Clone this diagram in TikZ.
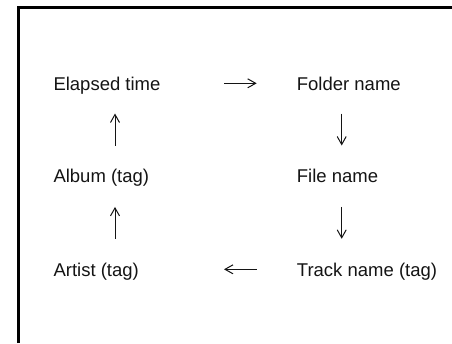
\documentclass[tikz,border=0pt]{standalone}
\usepackage{fontspec}
\setmainfont{Liberation Sans}
\usetikzlibrary{arrows.meta}
\begin{document}
\begin{tikzpicture}[x=1pt,y=-1pt,
  lbl/.style={anchor=base west,inner sep=0pt,text height=17.4pt,text depth=4pt,
    font=\fontsize{18.5}{22}\selectfont,text=black!92},
  arr/.style={line width=1pt,-{Straight Barb[length=8pt,width=9pt,line width=1pt]},draw=black!92},
  frame/.style={line width=3pt,line join=miter}]
\useasboundingbox (0,0) rectangle (452,343);
\draw[frame] (18.7,343) -- (18.7,7) -- (452,7);
\node[lbl] (e) at (53.3,90) {Elapsed time};
\node[lbl] (f) at (296.7,90) {Folder name};
\node[lbl] (al) at (53.3,182.7) {Album (tag)};
\node[lbl] (fi) at (296.7,182.7) {File name};
\node[lbl] (ar) at (53.3,276) {Artist (tag)};
\node[lbl] (t) at (296.7,276) {Track name (tag)};
\coordinate (cl) at (115,0);
\coordinate (cr) at (341.7,0);
\coordinate (h1) at (224,0);
\coordinate (h2) at (256.7,0);
\draw[arr] (e.east -| h1) -- (f.west -| h2);
\draw[arr] (t.west -| h2) -- (ar.east -| h1);
\draw[arr] (f.south -| cr) ++(0,19.3) -- ([yshift=19.6pt]fi.north -| cr);
\draw[arr] (fi.south -| cr) ++(0,20) -- ([yshift=19.6pt]t.north -| cr);
\draw[arr] (ar.north -| cl) ++(0,-19.6) -- ([yshift=-20pt]al.south -| cl);
\draw[arr] (al.north -| cl) ++(0,-19.6) -- ([yshift=-19.3pt]e.south -| cl);
\end{tikzpicture}
\end{document}
